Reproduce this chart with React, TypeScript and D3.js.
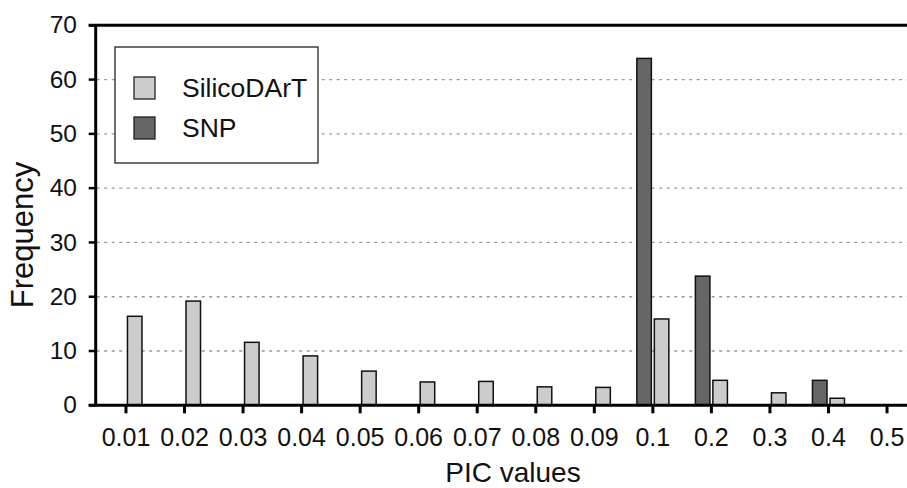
import React, { useEffect, useRef } from 'react';
import * as d3 from 'd3';

const categories = ['0.01', '0.02', '0.03', '0.04', '0.05', '0.06', '0.07', '0.08', '0.09', '0.1', '0.2', '0.3', '0.4', '0.5'];
const silicoValues = [16.4, 19.2, 11.6, 9.1, 6.3, 4.3, 4.4, 3.4, 3.3, 15.9, 4.6, 2.3, 1.3, 0];
const snpValues = [0, 0, 0, 0, 0, 0, 0, 0, 0, 63.9, 23.8, 0, 4.6, 0];
const yTicks = [0, 10, 20, 30, 40, 50, 60, 70];
const seriesNames = ['SNP', 'SilicoDArT'];
const legendNames = ['SilicoDArT', 'SNP'];

const FONT = '"Liberation Sans", Arial, sans-serif';
const colors = { SilicoDArT: '#cccccc', SNP: '#666666' };

const App = () => {
  const svgRef = useRef(null);
  const width = 907;
  const height = 488;

  useEffect(() => {
    document.body.style.margin = '0';
    const svg = d3.select(svgRef.current);
    svg.selectAll('*').remove();

    const left = 96.7;
    const right = 916.3;
    const top = 25.3;
    const bottom = 405.3;

    const x = d3.scaleBand()
      .domain(categories)
      .range([left, right])
      .paddingInner(0.453)
      .paddingOuter(0.2265);

    const xSub = d3.scaleBand()
      .domain(seriesNames)
      .range([0, x.bandwidth()])
      .paddingInner(0.17);

    const y = d3.scaleLinear().domain([0, 70]).range([bottom, top]);

    // dotted gridlines
    svg.append('g')
      .selectAll('line')
      .data(yTicks.filter(d => d > 0 && d < 70))
      .enter()
      .append('line')
      .attr('x1', left)
      .attr('x2', right)
      .attr('y1', d => y(d))
      .attr('y2', d => y(d))
      .attr('stroke', '#9a9a9a')
      .attr('stroke-width', 1.3)
      .attr('stroke-dasharray', '3 4.5');

    // bars
    const rows = categories.map((c, i) => ({ cat: c, SNP: snpValues[i], SilicoDArT: silicoValues[i] }));
    const groups = svg.append('g')
      .selectAll('g')
      .data(rows)
      .enter()
      .append('g')
      .attr('transform', d => `translate(${x(d.cat)},0)`);

    groups.selectAll('rect')
      .data(d => seriesNames.map(k => ({ key: k, value: d[k] })).filter(s => s.value > 0))
      .enter()
      .append('rect')
      .attr('x', d => xSub(d.key))
      .attr('width', xSub.bandwidth())
      .attr('y', d => y(d.value))
      .attr('height', d => y(0) - y(d.value))
      .attr('fill', d => colors[d.key])
      .attr('stroke', '#111')
      .attr('stroke-width', 1.5);

    // axes frame
    svg.append('line')
      .attr('x1', left - 1).attr('x2', left - 1)
      .attr('y1', top).attr('y2', bottom)
      .attr('stroke', '#000').attr('stroke-width', 3);
    svg.append('line')
      .attr('x1', left - 8).attr('x2', right)
      .attr('y1', bottom).attr('y2', bottom)
      .attr('stroke', '#000').attr('stroke-width', 3);
    svg.append('line')
      .attr('x1', left - 8).attr('x2', right)
      .attr('y1', top).attr('y2', top)
      .attr('stroke', '#000').attr('stroke-width', 3);

    // y ticks and labels
    const yAxis = svg.append('g');
    yTicks.forEach(t => {
      yAxis.append('line')
        .attr('x1', left - 8).attr('x2', left)
        .attr('y1', y(t)).attr('y2', y(t))
        .attr('stroke', '#000').attr('stroke-width', 2.5);
      yAxis.append('text')
        .attr('x', 77)
        .attr('y', y(t))
        .attr('dy', '0.33em')
        .attr('text-anchor', 'end')
        .style('font-family', FONT)
        .style('font-size', '24.5px')
        .attr('fill', '#111')
        .text(t);
    });

    // x ticks and labels
    const xAxis = svg.append('g');
    categories.forEach(c => {
      const cx = x(c) + x.bandwidth() / 2;
      xAxis.append('line')
        .attr('x1', cx).attr('x2', cx)
        .attr('y1', bottom).attr('y2', bottom + 8)
        .attr('stroke', '#000').attr('stroke-width', 3);
      xAxis.append('text')
        .attr('x', cx)
        .attr('y', 446)
        .attr('text-anchor', 'middle')
        .style('font-family', FONT)
        .style('font-size', '25px')
        .attr('fill', '#111')
        .text(c);
    });

    // axis titles
    svg.append('text')
      .attr('x', 513)
      .attr('y', 482)
      .attr('text-anchor', 'middle')
      .style('font-family', FONT)
      .style('font-size', '28px')
      .attr('fill', '#111')
      .text('PIC values');

    svg.append('text')
      .attr('transform', 'translate(33,235) rotate(-90)')
      .attr('text-anchor', 'middle')
      .style('font-family', FONT)
      .style('font-size', '31px')
      .attr('fill', '#111')
      .text('Frequency');

    // legend
    const legend = svg.append('g').attr('transform', 'translate(115,47)');
    legend.append('rect')
      .attr('width', 203)
      .attr('height', 116)
      .attr('fill', '#fff')
      .attr('stroke', '#222')
      .attr('stroke-width', 1.3);

    legendNames.forEach((name, i) => {
      const row = legend.append('g').attr('transform', `translate(19, ${30 + i * 40})`);
      row.append('rect')
        .attr('width', 21)
        .attr('height', 22)
        .attr('fill', colors[name])
        .attr('stroke', '#222')
        .attr('stroke-width', 1.3);
      row.append('text')
        .attr('x', 48)
        .attr('y', 20)
        .style('font-family', FONT)
        .style('font-size', '26.5px')
        .attr('fill', '#111')
        .text(name);
    });
  }, []);

  return (
    <div style={{ width, height, overflow: 'hidden' }}>
      <svg ref={svgRef} width={width} height={height} style={{ display: 'block', background: '#fff' }}></svg>
    </div>
  );
};

export default App;
